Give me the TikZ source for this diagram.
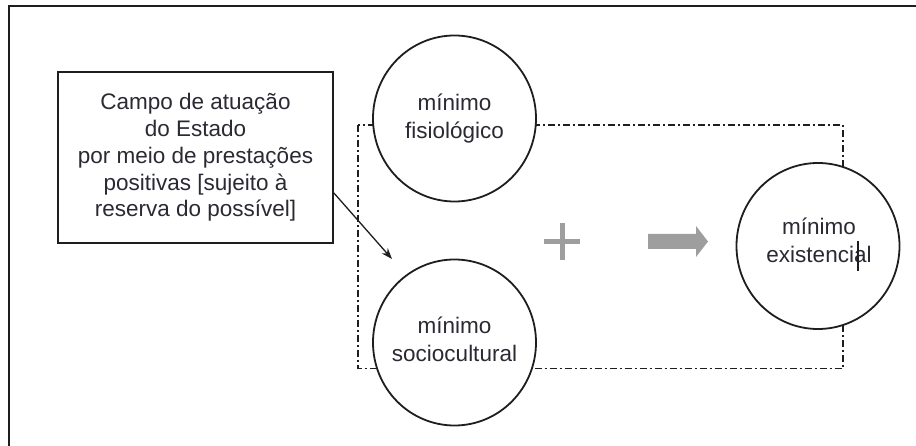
\documentclass[tikz,border=0pt]{standalone}
\usepackage{fontspec}
\setmainfont{Liberation Sans}
\usetikzlibrary{shapes.geometric,arrows.meta,calc}
\definecolor{inkc}{HTML}{1E1E1E}
\definecolor{txtc}{HTML}{2A2A33}
\definecolor{grayc}{HTML}{9E9E9E}
\begin{document}
\begin{tikzpicture}[x=1pt,y=-1pt,
  bub/.style={ellipse, draw=inkc, line width=1.8pt, fill=white,
    minimum width=163pt, minimum height=166pt, inner sep=0pt},
  bubtext/.style={align=center, text=txtc, inner sep=0pt,
    font=\fontsize{22.5}{28}\selectfont},
  campobox/.style={rectangle, draw=inkc, line width=1.8pt, fill=white,
    minimum width=275pt, minimum height=171pt, inner sep=0pt,
    align=center, text=txtc, font=\fontsize{22.5}{26.8}\selectfont},
  dashdot/.style={draw=inkc, line width=1.6pt,
    dash pattern=on 7pt off 3pt on 2pt off 3pt},
  pointer/.style={draw=inkc, line width=1.3pt,
    -{Stealth[length=11pt,width=8pt]}},
  plusbar/.style={draw=grayc, line width=5pt}
]
\useasboundingbox (0,0) rectangle (916,446);
% outer frame (only top and left edges visible)
\draw[inkc, line width=2.4pt] (9,446) -- (9,6) -- (916,6);

% dash-dot field
\draw[dashdot] (358,125) rectangle (843,368.5);

% circles
\node[bub] (fis) at (454.5,118.5) {};
\node[bub] (soc) at (454.5,342.5) {};
\node[bub] (exi) at (818,246) {};
\node[bubtext] (fist) at (454.5,118.5) {mínimo\\fisiológico};
\node[bubtext] (soct) at (454.5,339) {mínimo\\sociocultural};
\node[bubtext] (exit) at (819,240) {mínimo\\existencial};
% text cursor mark
\coordinate (cur) at (858,241);
\draw[inkc, line width=1.3pt] (cur) -- ++(0,30);

% text box
\node[campobox] (campo) at (195.5,157.5)
  {Campo de atuação\\do Estado\\por meio de prestações\\positivas [sujeito à\\reserva do possível]};

% pointer arrow
\coordinate (tip) at (392,259);
\draw[pointer] ([yshift=-35.5pt]campo.east) -- (tip);

% plus sign
\coordinate (plusc) at (562,242);
\draw[plusbar] ($(plusc)+(-18,0)$) -- ($(plusc)+(18,0)$);
\draw[plusbar] ($(plusc)+(0,-19)$) -- ($(plusc)+(0,18)$);

% block arrow
\fill[grayc] (648,234) -- (696,234) -- (696,226) -- (708,241.5)
  -- (696,257) -- (696,249) -- (648,249) -- cycle;
\end{tikzpicture}
\end{document}
